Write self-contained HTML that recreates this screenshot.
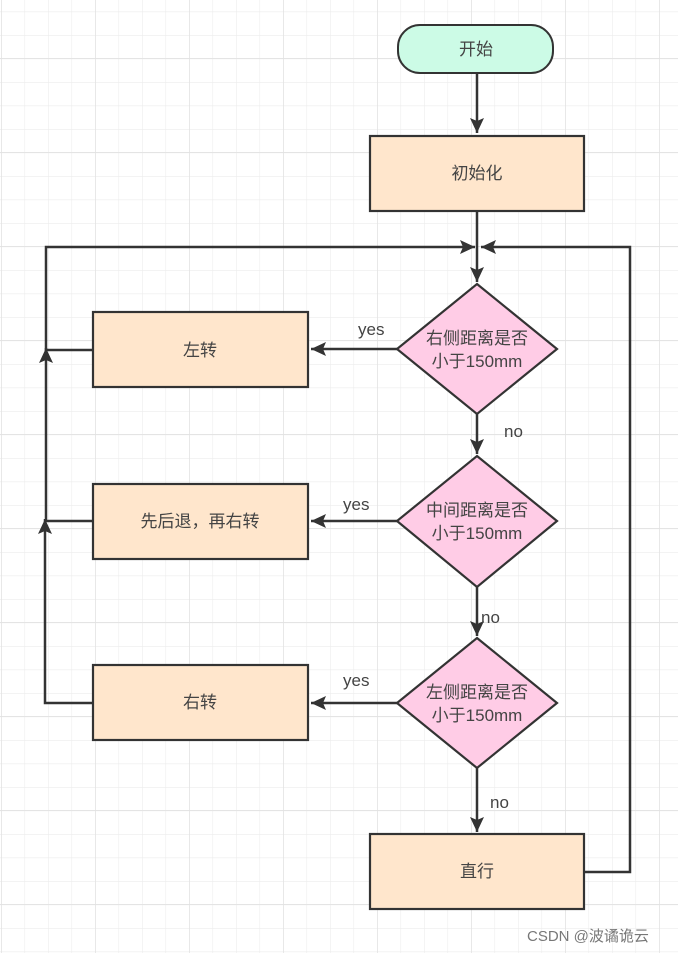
<!DOCTYPE html>
<html><head><meta charset="utf-8"><style>
html,body{margin:0;padding:0;background:#fff}
svg{display:block}
text{font-family:"Liberation Sans","Noto Sans CJK SC",sans-serif;fill:#444}
</style></head><body>
<svg width="678" height="953" viewBox="0 0 678 953" xmlns="http://www.w3.org/2000/svg">
<defs>
<pattern id="minor" width="23.5" height="23.5" patternUnits="userSpaceOnUse" x="1" y="11.5">
<path d="M0 0H23.5M0 0V23.5" stroke="#ececec" stroke-width="1.2" fill="none"/>
</pattern>
<pattern id="major" width="94" height="94" patternUnits="userSpaceOnUse" x="1" y="58">
<path d="M0 0H94M0 0V94" stroke="#e2e2e2" stroke-width="1.5" fill="none"/>
</pattern>
<marker id="a" markerWidth="16" markerHeight="14" refX="15" refY="7" orient="auto" markerUnits="userSpaceOnUse">
<path d="M0 0L15 7L0 14L3 7Z" fill="#333"/>
</marker>
</defs>
<rect width="678" height="953" fill="url(#minor)"/>
<rect width="678" height="953" fill="url(#major)"/>
<g stroke="#333" stroke-width="2.5" fill="none">
<path d="M477 73V133" marker-end="url(#a)"/>
<path d="M477 211V282" marker-end="url(#a)"/>
<path d="M477 414V454" marker-end="url(#a)"/>
<path d="M477 587V636" marker-end="url(#a)"/>
<path d="M477 768V832" marker-end="url(#a)"/>
<path d="M397 349H311" marker-end="url(#a)"/>
<path d="M397 521H311" marker-end="url(#a)"/>
<path d="M397 703H311" marker-end="url(#a)"/>
<path d="M93 703H45V519" marker-end="url(#a)"/>
<path d="M93 521H46V348" marker-end="url(#a)"/>
<path d="M93 350H46V247H475" marker-end="url(#a)"/>
<path d="M584 872H630V247H481" marker-end="url(#a)"/>
</g>
<rect x="398" y="25" width="155" height="48" rx="22" fill="#ccfbe6" stroke="#333" stroke-width="2"/>
<text x="476" y="55" font-size="17" text-anchor="middle">开始</text>
<rect x="370" y="136" width="214" height="75" fill="#ffe6cc" stroke="#333" stroke-width="2.2"/>
<text x="477" y="179" font-size="17" text-anchor="middle">初始化</text>
<g stroke="#333" stroke-width="2.2" fill="#ffcce6">
<path d="M477 284L557 349L477 414L397 349Z"/>
<path d="M477 456L557 521L477 587L397 521Z"/>
<path d="M477 638L557 703L477 768L397 703Z"/>
</g>
<g font-size="17" text-anchor="middle">
<text x="477" y="344">右侧距离是否</text><text x="477" y="367">小于150mm</text>
<text x="477" y="516">中间距离是否</text><text x="477" y="539">小于150mm</text>
<text x="477" y="698">左侧距离是否</text><text x="477" y="721">小于150mm</text>
</g>
<g fill="#ffe6cc" stroke="#333" stroke-width="2.2">
<rect x="93" y="312" width="215" height="75"/>
<rect x="93" y="484" width="215" height="75"/>
<rect x="93" y="665" width="215" height="75"/>
<rect x="370" y="834" width="214" height="75"/>
</g>
<g font-size="17" text-anchor="middle">
<text x="200" y="356">左转</text>
<text x="200" y="527">先后退，再右转</text>
<text x="200" y="708">右转</text>
<text x="477" y="877">直行</text>
</g>
<g font-size="17">
<text x="358" y="335">yes</text>
<text x="343" y="510">yes</text>
<text x="343" y="686">yes</text>
<text x="504" y="437">no</text>
<text x="481" y="623">no</text>
<text x="490" y="808">no</text>
</g>
<text x="527" y="941" font-size="15" style="fill:#777">CSDN @波谲诡云</text>
</svg>
</body></html>
